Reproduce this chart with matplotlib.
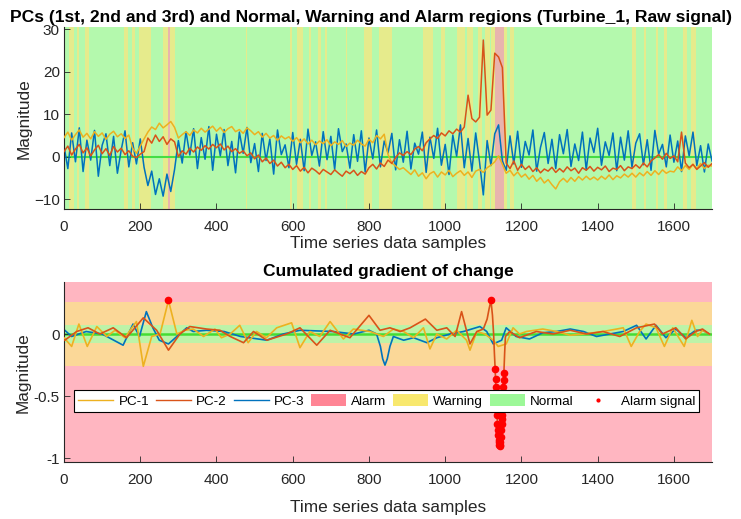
import numpy as np
import matplotlib
matplotlib.use('Agg')
import matplotlib.pyplot as plt
from matplotlib.patches import Patch
from matplotlib.lines import Line2D

plt.rcParams['font.family'] = ['Liberation Sans', 'DejaVu Sans']

# ---------------- data ----------------
# raw principal components, one value every 10 samples
raw_x = np.arange(0, 1701, 10)

pc1_raw = [4.5, 5.8, 3.9, 5.2, 6.3, 4.6, 5.5, 4.2, 5.9, 4.8, 5.6, 4.1, 5.3, 6.0, 4.7, 5.4, 4.3, 5.1, 2.0, 0.8,
           2.5, 4.2, 5.8, 7.0, 6.4, 7.9, 6.8, 7.5, 8.3, 6.9,
           4.4, 5.2, 5.9, 5.0, 6.3, 5.6, 6.7, 5.8, 6.5, 7.2,
           6.0, 6.9, 5.7, 6.6, 7.1, 5.9, 6.4, 5.5, 6.8, 6.1,
           5.2, 5.9, 4.6, 5.5, 4.4, 5.0, 3.8, 4.9, 4.2, 4.7,
           3.6, 4.5, 3.3, 4.2, 3.0, 3.9, 2.8, 3.7, 3.1, 4.0,
           2.6, 3.5, 2.9, 3.8, 2.4, 3.2, 2.7, 3.9, 3.0, 2.5,
           4.1, 3.3, 5.0, 4.2, 5.3, 0.5, -1.5, -2.2, -3.0, -2.6,
           -3.4, -4.2, -3.1, -4.6, -3.8, -5.2, -4.0, -3.5, -4.8, -3.6,
           -4.3, -3.2, -4.7, -3.9, -3.3, -4.4, -3.6, -4.9, -3.4, -3.0,
           -3.7, -2.6, -2.0, -1.2, 0.2, -1.8, -3.9, -3.2, -4.5, -3.6,
           -4.8, -4.1, -5.3, -4.4, -5.8, -4.9, -6.2, -5.4, -6.6, -7.6,
           -5.9, -5.1, -6.0, -4.9, -5.8, -4.7, -5.5, -4.6, -5.4, -4.8,
           -5.5, -4.6, -5.3, -4.3, -5.4, -4.5, -5.0, -4.1, -4.8, -3.9,
           -4.8, -3.8, -4.5, -3.5, -4.4, -3.3, -4.2, -3.1, -3.9, -3.4,
           -3.6, -2.4, -3.3, -2.1, -3.0, -1.8, -2.8, -1.6, -2.8, -2.0,
           -2.2]

pc2_raw = [1.2, 2.5, 0.4, 1.8, 2.9, 0.9, 2.1, 0.2, 1.6, 2.7, 0.7, 1.9, 0.3, 2.4, 1.1, 2.0, 0.5, 1.4, 0.1, -0.2,
           0.6, 1.2, 4.4, 3.2, 5.1, 3.6, 4.7, 2.9, 4.2, 3.5,
           0.0, 1.4, 0.6, 2.0, 1.1, 2.3, 1.5, 2.6, 1.8, 2.9,
           2.1, 3.0, 1.6, 2.5, 1.2, 1.9, 0.8, 1.4, 0.2, 0.9,
           -0.5, 0.4, -1.2, -0.3, -1.6, -0.8, -2.2, -1.3, -2.6, -1.8,
           -3.0, -2.1, -3.4, -2.5, -3.8, -2.7, -3.3, -4.1, -3.0, -3.6,
           -4.2, -3.1, -3.9, -4.6, -3.4, -4.0, -3.2, -4.4, -3.5, -4.1,
           -2.6, -1.8, -2.9, -1.5, -2.3, -0.8, -1.6, -0.2, 0.9, 0.3,
           1.2, 0.5, 1.8, 2.4, 1.4, 3.3, 4.2, 5.0, 4.3, 5.6,
           4.9, 6.1, 5.4, 6.5, 5.8, 7.0, 14.5, 9.0, 8.2, 9.3,
           27.5, 9.8, 11.0, 24.4, 23.5, 21.0, -1.5, -2.8, -1.0, -3.2,
           -1.8, -3.0, -2.2, -3.5, -2.6, -3.8, -2.9, -3.4, -2.5, -3.7,
           -2.8, -3.6, -2.4, -3.3, -2.7, -3.9, -2.6, -3.2, -2.3, -3.4,
           -2.5, -3.1, -2.2, -3.5, -2.7, -3.0, -2.1, -3.3, -2.4, -2.8,
           -1.9, -2.7, -1.5, -2.4, -1.0, -0.3, 0.5, -0.6, 0.8, -0.4,
           0.2, -1.2, 5.8, -1.5, -2.6, -1.8, -3.0, -2.2, -1.4, -2.5,
           -1.6]

pc3_raw = [2.5, -2.8, 5.6, -1.2, 6.8, -3.5, 3.9, -0.8, 6.2, -4.6, 2.7, 5.4, -2.1, 4.8, -3.9, 1.6, 6.1, -2.4, 3.3, -1.7,
           4.2, -2.5, -6.8, -3.4, -8.9, -5.2, -9.3, -4.1, -8.2, -3.0,
           3.8, -1.5, 5.9, 0.4, 6.6, -2.8, 4.5, -0.6, 7.1, -3.2,
           5.3, 0.2, 6.4, -2.1, 3.6, -3.8, 5.8, 0.8, 6.9, -1.4,
           3.1, -3.5, 5.5, -0.9, 4.2, -4.1, 6.3, 0.5, 2.8, -2.6,
           5.7, -1.8, 4.1, -3.3, 6.5, 0.3, 3.5, -2.2, 5.9, -0.7,
           4.8, -3.0, 6.6, 1.2, 3.0, -2.7, 5.2, -1.1, 6.1, -3.6,
           4.4, -0.5, 6.3, -2.4, 3.7, 0.9, 5.5, -3.1, 4.0, -1.3,
           6.0, -2.9, 3.2, 0.6, 5.8, -3.7, 4.6, -0.4, 6.7, -2.0,
           2.9, -4.2, 5.1, 0.1, 7.5, -2.6, 4.3, -3.4, 5.6, -1.2,
           -9.0, 3.8, -2.1, 5.4, 7.5, -1.0, -3.2, 4.9, -1.7, 6.0,
           -2.5, 3.6, 0.4, 6.3, -3.4, 2.2, 5.7, -1.6, 4.1, -2.8,
           5.2, 0.7, 6.4, -2.3, 3.0, -0.9, 5.8, -3.1, 4.4, 1.0,
           6.7, -2.0, 3.5, 0.3, 5.6, -3.3, 4.6, -0.8, 6.1, -2.5,
           3.2, 5.4, -1.9, 4.0, -3.2, 6.2, 0.6, 2.9, -2.4, 5.1,
           -1.3, 3.7, -3.5, 4.9, 0.2, 5.8, -2.1, 2.6, -3.6, 3.0,
           -1.0]

# sample ranges flagged in the top panel
warning_spans = [(14, 25), (34, 40), (56, 66), (157, 167), (178, 185), (198, 229), (260, 273),
                 (279, 292), (478, 481), (592, 598), (612, 626), (643, 649), (666, 673), (685, 691),
                 (741, 743), (786, 808), (827, 861), (941, 969), (989, 999), (1032, 1052),
                 (1058, 1074), (1087, 1096), (1104, 1117), (1121, 1131), (1155, 1161), (1170, 1180),
                 (1491, 1501), (1521, 1528), (1552, 1559), (1573, 1582), (1623, 1635), (1645, 1657)]
alarm_spans = [(273, 279), (1119, 1121), (1131, 1155)]

# cumulated gradient of change
pc1_gx = [0, 20, 39, 61, 86, 112, 134, 160, 178, 190, 208, 230, 252, 274, 296, 317, 339, 366, 396, 413,
          436, 461, 483, 505, 531, 558, 597, 619, 645, 671, 698, 733, 759, 803, 838, 864, 891, 917, 943,
          960, 978, 1004, 1030, 1056, 1065, 1083, 1104, 1126, 1139, 1160, 1178, 1195, 1213, 1256, 1292,
          1328, 1363, 1414, 1450, 1467, 1488, 1510, 1527, 1553, 1575, 1597, 1627, 1647, 1662, 1675, 1693]
pc1_gy = [-0.03, -0.1, 0.08, -0.1, 0.06, -0.02, 0.03, -0.03, 0.05, 0.1, -0.26, -0.02, 0.0, 0.27, 0.0,
          0.03, 0.04, -0.02, 0.04, -0.03, 0.0, 0.07, -0.07, 0.02, -0.03, 0.05, 0.09, -0.11, 0.02, -0.02,
          0.1, -0.04, 0.04, 0.02, -0.02, 0.04, 0.02, -0.03, 0.05, -0.12, 0.0, -0.04, 0.03, -0.05, -0.13,
          0.02, 0.0, -0.05, -0.1, -0.08, 0.05, 0.0, 0.02, 0.04, 0.02, -0.01, 0.0, 0.02, 0.04, 0.05, -0.1,
          0.02, 0.08, 0.05, -0.1, 0.05, -0.1, 0.11, -0.02, 0.03, 0.0]

pc2_gx = [2, 33, 63, 94, 129, 164, 208, 243, 274, 304, 330, 374, 409, 436, 471, 497, 532, 584, 619, 663,
          698, 750, 800, 829, 855, 882, 908, 948, 978, 1004, 1026, 1043, 1065, 1083, 1100, 1110, 1115,
          1120, 1124, 1127, 1129, 1131, 1132, 1133, 1134, 1135, 1136, 1137, 1138, 1139, 1140, 1141, 1142,
          1143, 1144, 1145, 1146, 1147, 1148, 1149, 1150, 1151, 1152, 1153, 1154, 1156, 1158, 1169, 1195,
          1239, 1283, 1328, 1371, 1414, 1458, 1502, 1549, 1570, 1605, 1631, 1657, 1675, 1693]
pc2_gy = [-0.05, 0.02, 0.05, 0.0, 0.05, -0.03, 0.13, 0.03, -0.13, 0.0, 0.06, 0.04, 0.03, -0.02, -0.07,
          0.02, -0.05, 0.0, 0.05, -0.09, 0.03, -0.03, 0.15, 0.03, 0.05, 0.02, 0.05, 0.12, 0.03, 0.05,
          -0.02, 0.18, -0.08, 0.02, 0.04, 0.12, 0.2, 0.27, 0.15, 0.0, -0.15, -0.28, -0.36, -0.43, -0.52,
          -0.6, -0.65, -0.72, -0.77, -0.81, -0.85, -0.87, -0.89, -0.9, -0.89, -0.87, -0.83, -0.77, -0.72,
          -0.68, -0.65, -0.55, -0.43, -0.37, -0.31, -0.15, -0.02, 0.02, -0.03, 0.02, 0.0, 0.03, 0.0,
          0.02, -0.02, 0.05, 0.08, 0.0, 0.05, -0.04, 0.02, 0.04, 0.0]

pc3_gx = [2, 20, 58, 100, 155, 181, 198, 216, 233, 250, 274, 296, 322, 339, 374, 420, 463, 532, 575,
          619, 706, 760, 800, 820, 830, 836, 842, 848, 855, 864, 891, 917, 952, 978, 1013, 1048, 1091,
          1109, 1126, 1148, 1160, 1186, 1221, 1256, 1292, 1328, 1363, 1397, 1432, 1467, 1502, 1527,
          1553, 1579, 1605, 1631, 1657, 1675, 1693]
pc3_gy = [0.03, -0.02, 0.02, 0.0, -0.09, 0.08, -0.02, 0.18, 0.05, -0.05, -0.08, -0.02, 0.05, 0.02,
          0.03, 0.02, -0.02, -0.05, 0.0, 0.03, 0.02, 0.0, 0.03, 0.0, -0.1, -0.2, -0.25, -0.2, -0.1,
          -0.02, -0.05, -0.03, -0.07, -0.03, 0.0, 0.02, 0.06, 0.02, -0.08, -0.05, 0.05, -0.02, -0.04,
          0.01, 0.02, 0.04, 0.02, -0.02, 0.0, 0.02, 0.07, -0.04, 0.07, -0.03, 0.04, -0.03, 0.03, 0.03, 0.0]

normal_limit = 0.07
warning_limit = 0.26

# ---------------- style ----------------
c_pc1 = '#EDB120'
c_pc2 = '#D95319'
c_pc3 = '#0072BD'
txt = '#262626'

fig = plt.figure(figsize=(7.41, 5.19), dpi=100)
ax1 = fig.add_axes([0.0864, 0.5967, 0.8745, 0.3507])
ax2 = fig.add_axes([0.0864, 0.1092, 0.8745, 0.3474])

for ax in (ax1, ax2):
    for s in ('top', 'right'):
        ax.spines[s].set_visible(False)
    for s in ('left', 'bottom'):
        ax.spines[s].set_color(txt)
        ax.spines[s].set_linewidth(0.8)
    ax.tick_params(direction='in', length=4, labelsize=11, colors=txt, width=0.6)
    ax.tick_params(axis='x', pad=8)
    ax.tick_params(axis='y', pad=3)
    ax.set_xlim(0, 1700)
    ax.set_xticks(np.arange(0, 1700, 200))

# ---- top panel ----
ax1.set_facecolor('#b4f9ad')
for a, b in warning_spans:
    ax1.axvspan(a, b, color='#e6eb8c', lw=0, zorder=0.5)
for a, b in alarm_spans:
    ax1.axvspan(a, b, color='#e8b4ae', lw=0, zorder=0.6)
ax1.axhline(0, color='#44dd44', lw=1.5, zorder=1)
ax1.plot(raw_x, pc3_raw, color=c_pc3, lw=1.1, zorder=2)
ax1.plot(raw_x, pc1_raw, color=c_pc1, lw=1.1, zorder=3)
ax1.plot(raw_x, pc2_raw, color=c_pc2, lw=1.1, zorder=4)
ax1.set_ylim(-12.4, 30.5)
ax1.set_yticks([-10, 0, 10, 20, 30])
ax1.set_ylabel('Magnitude', fontsize=12.4, color=txt, labelpad=2)
ax1.set_xlabel('Time series data samples', fontsize=12.4, color=txt, labelpad=1)
ax1.set_title('PCs (1st, 2nd and 3rd) and Normal, Warning and Alarm regions (Turbine_1, Raw signal)',
              fontsize=12.6, fontweight='bold', x=0.474, pad=4)

# ---- bottom panel ----
ax2.set_facecolor('#ffb6c1')
ax2.axhspan(-warning_limit, warning_limit, color='#fbd898', lw=0, zorder=0.5)
ax2.axhspan(-normal_limit, normal_limit, color='#bdf3a8', lw=0, zorder=0.6)
ax2.axhline(0, color='#44dd33', lw=1.8, zorder=1)
l1, = ax2.plot(pc1_gx, pc1_gy, color=c_pc1, lw=1.2, zorder=3)
l2, = ax2.plot(pc2_gx, pc2_gy, color=c_pc2, lw=1.2, zorder=3)
l3, = ax2.plot(pc3_gx, pc3_gy, color=c_pc3, lw=1.2, zorder=2)

# alarm signals: points outside the warning band
for gx, gy in ((pc1_gx, pc1_gy), (pc2_gx, pc2_gy), (pc3_gx, pc3_gy)):
    gx = np.array(gx)
    gy = np.array(gy)
    m = np.abs(gy) > warning_limit
    ax2.plot(gx[m], gy[m], 'o', color='red', ms=4.5, zorder=4)

ax2.set_ylim(-1.032, 0.418)
ax2.set_yticks([-1, -0.5, 0])
ax2.set_yticklabels(['-1', '-0.5', '0'])
ax2.set_ylabel('Magnitude', fontsize=12.4, color=txt, labelpad=2)
ax2.set_xlabel('Time series data samples', fontsize=12.4, color=txt, labelpad=9)
ax2.set_title('Cumulated gradient of change', fontsize=12.5, fontweight='bold', pad=4)

handles = [Line2D([], [], color=c_pc1, lw=1),
           Line2D([], [], color=c_pc2, lw=1),
           Line2D([], [], color=c_pc3, lw=1),
           Patch(facecolor='#ff8595', edgecolor='none'),
           Patch(facecolor='#f8e86e', edgecolor='none'),
           Patch(facecolor='#9cf898', edgecolor='none'),
           Line2D([], [], color='red', marker='.', ms=4, lw=0)]
labels = ['PC-1', 'PC-2', 'PC-3', 'Alarm', 'Warning', 'Normal', 'Alarm signal']
leg = ax2.legend(handles, labels, loc='center', bbox_to_anchor=(0.498, 0.34), ncol=7, fontsize=9.7,
                 frameon=True, fancybox=False, framealpha=1, edgecolor='black', borderpad=0.3,
                 handlelength=2.6, handleheight=0.9, handletextpad=0.38, columnspacing=0.5,
                 borderaxespad=0)
leg.get_frame().set_linewidth(0.8)
leg.set_zorder(10)
for t in leg.get_texts():
    t.set_color('black')

fig.savefig('out.png', dpi=100)
